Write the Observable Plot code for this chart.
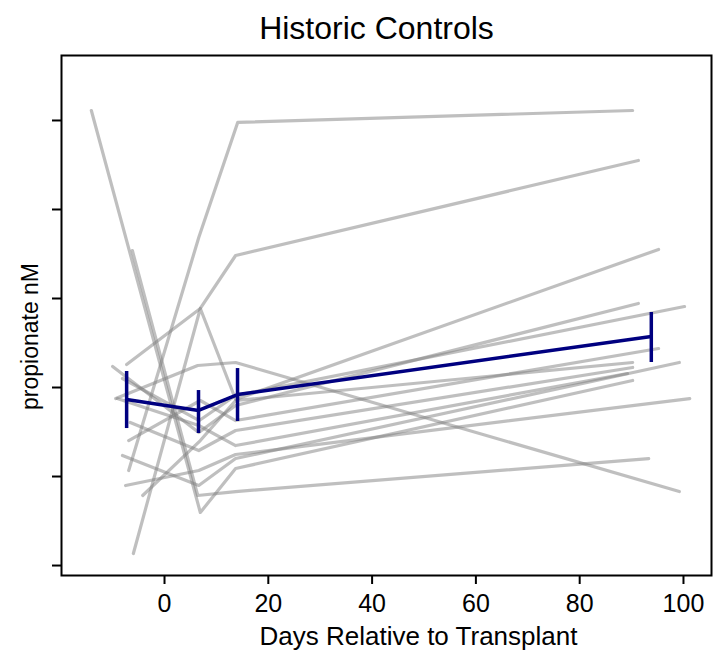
<!DOCTYPE html>
<html><head><meta charset="utf-8">
<script src="https://cdn.jsdelivr.net/npm/d3@7"></script>
<script src="https://cdn.jsdelivr.net/npm/@observablehq/plot@0.6"></script>
<style>
body{margin:0;background:#fff;font-family:"Liberation Sans",Arial,Helvetica,sans-serif;}
#title{height:47px;width:713px;box-sizing:border-box;padding-left:40px;text-align:center;font-size:32px;line-height:56px;color:#000;overflow:hidden;}
#chart svg{display:block;}
</style></head><body>
<div id="title">Historic Controls</div>
<div id="chart"></div>
<script>
// Subjects (historic controls)
const subjectIds = ["S01","S02","S03","S04","S05","S06","S07","S08","S09","S10","S11","S12","S13","S14"];
// Pre-transplant sample
const dayPre = [-6.9,-7.3,-6.0,-10.0,-8.1,-6.9,-8.1,-4.2,-6.6,-9.1,-14.1,-7.5,-6.2,-9.4];
const valPre = [10.67,22.58,1.35,22.36,21.01,14.04,12.36,7.87,16.07,18.76,51.12,8.99,35.39,18.76];
// ~1 week post
const dayWk1 = [6.6,6.9,6.9,6.6,6.7,6.9,6.6,6.9,6.6,6.6,6.9,6.6,6.4,6.4];
const valWk1 = [36.85,28.88,28.88,14.94,16.29,18.54,8.99,14.04,12.92,15.73,5.96,10.67,7.87,22.47];
// ~2 weeks post
const dayWk2 = [14.1,13.7,13.7,13.7,13.7,13.7,13.7,13.7,13.7,13.7,13.7,13.7,13.7,13.7];
const valWk2 = [49.78,34.83,18.65,17.98,19.10,16.29,12.02,18.54,15.17,13.48,10.90,12.47,8.31,22.81];
// ~day 100
const dayD100 = [90.2,91.3,95.2,91.3,100.2,95.2,99.2,90.2,90.2,89.2,90.2,101.2,93.3,99.2];
const valD100 = [51.12,45.51,35.51,29.44,29.10,24.38,22.81,22.81,22.25,21.57,20.79,18.76,12.02,8.31];
// Group mean and error bars
const meanDays = [-7.3,6.55,14.07,93.8];
const meanValues = [18.65,17.42,19.21,25.73];
const errLow = [15.39,14.83,16.18,22.81];
const errHigh = [21.80,19.66,22.13,28.43];
// Axis ticks
const xTicks = [0,20,40,60,80,100];
const yTicks = [0,10,20,30,40,50];

const rows = [];
subjectIds.forEach((s,i)=>{
  [[dayPre,valPre],[dayWk1,valWk1],[dayWk2,valWk2],[dayD100,valD100]].forEach(([d,v])=>{
    rows.push({subject:s, day:d[i], value:v[i]});
  });
});
const meanRows = meanDays.map((d,i)=>({day:d, mean:meanValues[i], lo:errLow[i], hi:errHigh[i]}));

const font = '"Liberation Sans",Arial,Helvetica,sans-serif';
const chart = Plot.plot({
  width:713, height:610,
  marginTop:8, marginBottom:82, marginLeft:61, marginRight:2,
  x:{domain:[-19.85,105.4]},
  y:{domain:[-1.12,57.3]},
  style:{fontFamily:font, fontSize:"25px", color:"#000", background:"#fff"},
  marks:[
    Plot.line(rows,{x:"day",y:"value",z:"subject",stroke:"#808080",strokeOpacity:0.5,strokeWidth:3.2}),
    Plot.ruleX(meanRows,{x:"day",y1:"lo",y2:"hi",stroke:"#000080",strokeWidth:3.5}),
    Plot.line(meanRows,{x:"day",y:"mean",stroke:"#000080",strokeWidth:3.5}),
    Plot.frame({stroke:"#000",strokeWidth:2}),
    Plot.axisX({ticks:xTicks, tickSize:9, tickPadding:10, fontSize:25, label:null, strokeWidth:2}),
    Plot.axisY({ticks:yTicks, tickSize:9, tickFormat:()=>"", label:null, strokeWidth:2}),
    Plot.text(["Days Relative to Transplant"],{frameAnchor:"bottom", dx:32, dy:69, fontSize:26, text:d=>d}),
    Plot.text(["propionate nM"],{frameAnchor:"left", textAnchor:"middle", dx:-31, dy:21, rotate:-90, fontSize:23, text:d=>d})
  ]
});
document.getElementById("chart").appendChild(chart);
</script>
</body></html>
